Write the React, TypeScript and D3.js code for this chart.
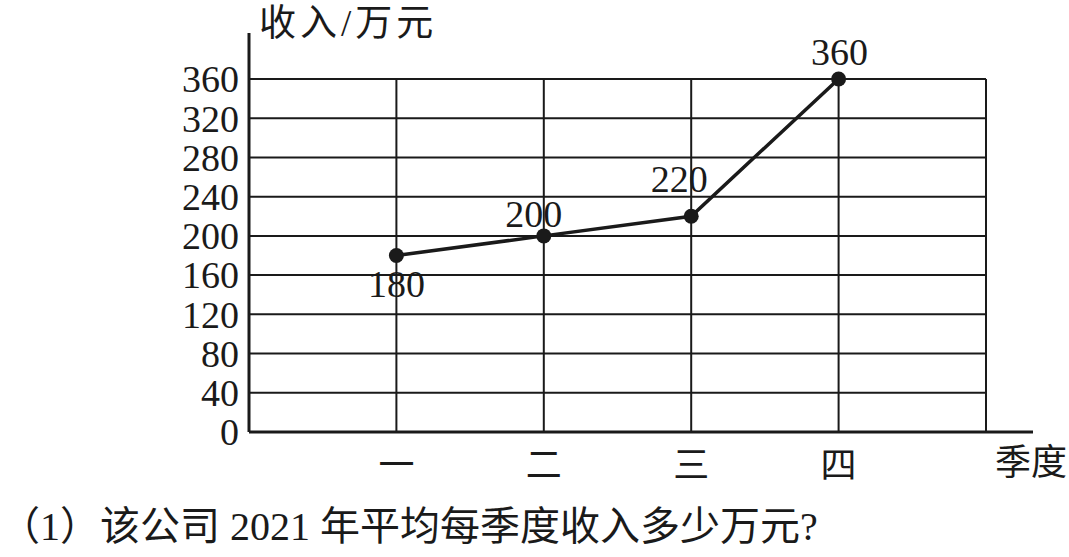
import React, { useEffect, useRef } from 'react';
import * as d3 from 'd3';

const quarters = ['一', '二', '三', '四'];
const income = [180, 200, 220, 360];
const yTicks = [0, 40, 80, 120, 160, 200, 240, 280, 320, 360];
const yTitle = '收入/万元';
const xTitle = '季度';
const question = '（1）该公司 2021 年平均每季度收入多少万元?';

const W = 1069;
const H = 557;
const FONT = '"Liberation Serif", "Noto Sans CJK SC", serif';

// where each value label sits relative to its point
const labelOffsets = [
  { dx: 0, dy: 41 },
  { dx: -10, dy: -9 },
  { dx: -12, dy: -24 },
  { dx: 1, dy: -14 },
];

const App: React.FC = () => {
  const svgRef = useRef<SVGSVGElement>(null);

  useEffect(() => {
    document.body.style.margin = '0';
    const svg = d3.select(svgRef.current);
    svg.selectAll('*').remove();

    const left = 249;
    const gridRight = 986;
    const axisRight = 1033;
    const bottom = 432;
    const top = 79;

    const x = d3.scaleLinear().domain([0, quarters.length + 1]).range([left, gridRight]);
    const y = d3.scaleLinear().domain([0, 360]).range([bottom, top]);
    const ink = '#1a1a1a';

    const g = svg.append('g');

    // horizontal grid
    g.append('g')
      .selectAll('line')
      .data(yTicks.slice(1))
      .join('line')
      .attr('x1', left)
      .attr('x2', gridRight)
      .attr('y1', d => y(d))
      .attr('y2', d => y(d))
      .attr('stroke', ink)
      .attr('stroke-width', 2);

    // vertical grid
    g.append('g')
      .selectAll('line')
      .data(d3.range(1, quarters.length + 2))
      .join('line')
      .attr('x1', d => x(d))
      .attr('x2', d => x(d))
      .attr('y1', y(360))
      .attr('y2', bottom)
      .attr('stroke', ink)
      .attr('stroke-width', 2);

    // axes
    g.append('line')
      .attr('x1', left).attr('x2', left)
      .attr('y1', 33).attr('y2', bottom)
      .attr('stroke', ink).attr('stroke-width', 3);
    g.append('line')
      .attr('x1', left).attr('x2', axisRight)
      .attr('y1', bottom).attr('y2', bottom)
      .attr('stroke', ink).attr('stroke-width', 3);

    // y tick labels
    g.append('g')
      .selectAll('text')
      .data(yTicks)
      .join('text')
      .attr('x', 239)
      .attr('y', d => y(d))
      .attr('dy', '0.35em')
      .attr('text-anchor', 'end')
      .attr('font-family', FONT)
      .attr('font-size', 38)
      .attr('fill', ink)
      .text(d => d);

    // x tick labels
    g.append('g')
      .selectAll('text')
      .data(quarters)
      .join('text')
      .attr('x', (_, i) => x(i + 1))
      .attr('y', 478)
      .attr('text-anchor', 'middle')
      .attr('font-family', FONT)
      .attr('font-size', 36)
      .attr('fill', ink)
      .text(d => d);

    g.append('text')
      .attr('x', 1067)
      .attr('y', 475)
      .attr('text-anchor', 'end')
      .attr('font-family', FONT)
      .attr('font-size', 36)
      .attr('fill', ink)
      .text(xTitle);

    g.append('text')
      .attr('x', 259)
      .attr('y', 36)
      .attr('font-family', FONT)
      .attr('font-size', 37)
      .attr('letter-spacing', 4)
      .attr('fill', ink)
      .text(yTitle);

    // line
    const line = d3.line<number>()
      .x((_, i) => x(i + 1))
      .y(d => y(d));
    g.append('path')
      .datum(income)
      .attr('d', line)
      .attr('fill', 'none')
      .attr('stroke', ink)
      .attr('stroke-width', 3.5);

    g.append('g')
      .selectAll('circle')
      .data(income)
      .join('circle')
      .attr('cx', (_, i) => x(i + 1))
      .attr('cy', d => y(d))
      .attr('r', 7.5)
      .attr('fill', ink);

    g.append('g')
      .selectAll('text')
      .data(income)
      .join('text')
      .attr('x', (_, i) => x(i + 1) + labelOffsets[i].dx)
      .attr('y', (d, i) => y(d) + labelOffsets[i].dy)
      .attr('text-anchor', 'middle')
      .attr('font-family', FONT)
      .attr('font-size', 38)
      .attr('fill', ink)
      .text(d => d);

    // question text
    g.append('text')
      .attr('x', 0)
      .attr('y', 540)
      .attr('font-family', FONT)
      .attr('font-size', 40)
      .attr('fill', ink)
      .text(question);
  }, []);

  return <svg ref={svgRef} width={W} height={H} style={{ display: 'block', background: '#fff' }} />;
};

export default App;
